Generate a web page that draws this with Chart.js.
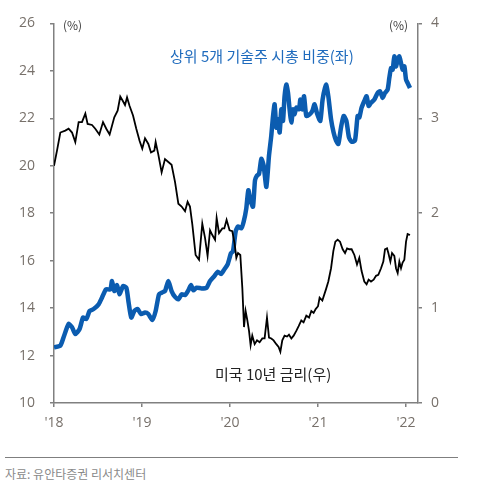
<!DOCTYPE html>
<html>
<head>
<meta charset="utf-8">
<script src="https://cdn.jsdelivr.net/npm/chart.js@4"></script>
<style>
  html, body { margin: 0; padding: 0; background: #fff; }
  #wrap { position: relative; width: 483px; height: 497px; overflow: hidden; }
  #chart { position: absolute; left: 0; top: 0; }
  .lbl { position: absolute; white-space: nowrap; font-family: "Noto Sans CJK KR", "Noto Sans", sans-serif; }
  .unit { font-size: 12px; color: #404040; top: 16px; }
  #blueLbl { left: 170px; top: 45px; font-size: 15px; color: #1f6bbd; }
  #blackLbl { left: 215px; top: 363px; font-size: 15px; color: #222; }
  #rule { position: absolute; left: 5px; top: 457px; width: 453px; height: 0; border-top: 1.5px solid #7f7f7f; }
  #src { left: 5px; top: 465px; font-size: 12px; color: #8a8a8a; }
</style>
</head>
<body>
<div id="wrap">
  <canvas id="chart"></canvas>
  <div class="lbl unit" style="left:63px;">(%)</div>
  <div class="lbl unit" style="left:389px;">(%)</div>
  <div class="lbl" id="blueLbl">상위 5개 기술주 시총 비중(좌)</div>
  <div class="lbl" id="blackLbl">미국 10년 금리(우)</div>
  <div id="rule"></div>
  <div class="lbl" id="src">자료: 유안타증권 리서치센터</div>
</div>
<script>
// 상위 5개 기술주 시총 비중 (좌축, %)
const techX = [2018.000, 2018.072, 2018.109, 2018.166, 2018.205, 2018.242, 2018.291, 2018.330, 2018.367, 2018.405,
  2018.450, 2018.507, 2018.545, 2018.591, 2018.640, 2018.659, 2018.685, 2018.716, 2018.745, 2018.784,
  2018.822, 2018.848, 2018.878, 2018.913, 2018.950, 2018.989, 2019.034, 2019.072, 2019.117, 2019.155,
  2019.193, 2019.223, 2019.261, 2019.299, 2019.336, 2019.375, 2019.413, 2019.450, 2019.489, 2019.526,
  2019.557, 2019.583, 2019.620, 2019.677, 2019.734, 2019.773, 2019.822, 2019.859, 2019.898, 2019.935,
  2019.973, 2020.011, 2020.034, 2020.064, 2020.091, 2020.128, 2020.155, 2020.185, 2020.208, 2020.231,
  2020.261, 2020.284, 2020.307, 2020.330, 2020.356, 2020.382, 2020.413, 2020.443, 2020.469, 2020.489,
  2020.507, 2020.526, 2020.545, 2020.564, 2020.583, 2020.602, 2020.620, 2020.640, 2020.659, 2020.677,
  2020.697, 2020.716, 2020.734, 2020.753, 2020.784, 2020.799, 2020.822, 2020.841, 2020.867, 2020.905,
  2020.935, 2020.961, 2020.989, 2021.026, 2021.052, 2021.091, 2021.117, 2021.148, 2021.177, 2021.205,
  2021.231, 2021.261, 2021.291, 2021.322, 2021.352, 2021.382, 2021.420, 2021.450, 2021.469, 2021.495,
  2021.526, 2021.552, 2021.575, 2021.602, 2021.640, 2021.677, 2021.705, 2021.734, 2021.761, 2021.791,
  2021.810, 2021.830, 2021.848, 2021.867, 2021.886, 2021.905, 2021.924, 2021.943, 2021.961, 2021.981,
  2022.000, 2022.018, 2022.045];
const techShare = [12.35, 12.42, 12.77, 13.33, 13.19, 12.91, 13.12, 13.60, 13.54, 13.88,
  13.96, 14.16, 14.44, 14.79, 14.79, 15.14, 14.72, 14.97, 14.58, 14.93,
  14.86, 14.23, 13.60, 13.88, 13.96, 13.75, 13.81, 13.75, 13.50, 13.88,
  14.58, 14.65, 14.72, 15.14, 14.72, 14.47, 14.37, 14.58, 14.55, 14.75,
  14.97, 14.75, 14.86, 14.83, 14.86, 15.14, 15.35, 15.53, 15.44, 15.63,
  15.84, 16.32, 16.39, 17.23, 17.44, 17.36, 17.64, 18.20, 18.97, 18.55,
  18.27, 19.39, 19.59, 19.66, 20.29, 20.01, 19.11, 20.43, 21.27, 22.10,
  22.59, 21.61, 21.96, 21.40, 22.38, 21.89, 22.93, 23.42, 23.07, 22.38,
  21.82, 22.38, 22.17, 22.45, 22.38, 22.79, 22.38, 22.93, 22.10, 22.17,
  22.31, 22.59, 22.20, 21.89, 22.79, 23.42, 22.93, 21.96, 21.40, 21.06,
  20.92, 21.61, 22.10, 21.89, 21.19, 21.01, 21.06, 22.10, 22.03, 22.45,
  22.73, 22.93, 22.52, 22.66, 22.79, 23.07, 23.14, 22.86, 23.07, 23.21,
  23.70, 24.12, 24.05, 24.61, 24.19, 24.46, 24.61, 24.33, 24.05, 24.19,
  23.63, 23.49, 23.28];

// 미국 10년 금리 (우축, %)
const rateX = [2018.000, 2018.034, 2018.072, 2018.128, 2018.166, 2018.205, 2018.242, 2018.280, 2018.318, 2018.356,
  2018.382, 2018.432, 2018.469, 2018.515, 2018.557, 2018.594, 2018.632, 2018.685, 2018.723, 2018.753,
  2018.784, 2018.807, 2018.830, 2018.859, 2018.898, 2018.935, 2018.973, 2019.003, 2019.034, 2019.072,
  2019.102, 2019.140, 2019.155, 2019.185, 2019.223, 2019.261, 2019.299, 2019.336, 2019.375, 2019.413,
  2019.450, 2019.489, 2019.518, 2019.545, 2019.572, 2019.609, 2019.648, 2019.685, 2019.716, 2019.745,
  2019.773, 2019.799, 2019.830, 2019.848, 2019.875, 2019.913, 2019.935, 2019.961, 2019.995, 2020.026,
  2020.052, 2020.072, 2020.091, 2020.117, 2020.140, 2020.159, 2020.177, 2020.197, 2020.216, 2020.234,
  2020.253, 2020.280, 2020.307, 2020.336, 2020.367, 2020.393, 2020.420, 2020.443, 2020.469, 2020.495,
  2020.526, 2020.552, 2020.572, 2020.594, 2020.620, 2020.648, 2020.670, 2020.697, 2020.723, 2020.753,
  2020.780, 2020.810, 2020.836, 2020.867, 2020.898, 2020.924, 2020.950, 2020.973, 2021.000, 2021.018,
  2021.049, 2021.091, 2021.117, 2021.148, 2021.174, 2021.197, 2021.223, 2021.250, 2021.280, 2021.307,
  2021.330, 2021.356, 2021.382, 2021.413, 2021.443, 2021.469, 2021.495, 2021.526, 2021.552, 2021.575,
  2021.602, 2021.632, 2021.659, 2021.685, 2021.716, 2021.742, 2021.761, 2021.784, 2021.799, 2021.822,
  2021.841, 2021.867, 2021.886, 2021.905, 2021.924, 2021.943, 2021.961, 2021.981, 2022.000, 2022.018,
  2022.045];
const rate10y = [2.50, 2.66, 2.85, 2.87, 2.89, 2.85, 2.75, 2.96, 2.96, 3.05,
  2.94, 2.93, 2.89, 2.83, 2.96, 2.89, 2.83, 3.01, 3.08, 3.23,
  3.18, 3.14, 3.22, 3.13, 3.03, 2.89, 2.76, 2.68, 2.79, 2.73,
  2.64, 2.66, 2.75, 2.62, 2.43, 2.57, 2.54, 2.51, 2.33, 2.10,
  2.07, 2.02, 2.12, 2.07, 1.88, 1.56, 1.51, 1.89, 1.74, 1.55,
  1.82, 1.77, 1.72, 1.95, 1.79, 1.84, 1.84, 1.93, 1.82, 1.81,
  1.68, 1.53, 1.58, 1.56, 1.21, 0.80, 0.97, 0.87, 0.76, 0.61,
  0.71, 0.62, 0.66, 0.64, 0.68, 0.68, 0.90, 0.69, 0.68, 0.66,
  0.62, 0.59, 0.54, 0.66, 0.71, 0.70, 0.72, 0.68, 0.71, 0.76,
  0.81, 0.87, 0.85, 0.92, 0.90, 0.97, 0.95, 0.99, 1.02, 1.11,
  1.08, 1.20, 1.28, 1.42, 1.60, 1.70, 1.72, 1.70, 1.62, 1.58,
  1.63, 1.62, 1.62, 1.56, 1.46, 1.53, 1.39, 1.28, 1.25, 1.30,
  1.28, 1.30, 1.34, 1.35, 1.42, 1.49, 1.62, 1.63, 1.58, 1.49,
  1.58, 1.55, 1.42, 1.37, 1.49, 1.42, 1.48, 1.51, 1.70, 1.78,
  1.77];

const yearTicks = [2018, 2019, 2020, 2021, 2022];
const leftTicks = [10, 12, 14, 16, 18, 20, 22, 24, 26];
const rightTicks = [0, 1, 2, 3, 4];

const axisGray = '#808080';
const tickFont = { family: '"Open Sans", "Noto Sans", sans-serif', size: 14 };
const tickColor = '#77706a';

const canvas = document.getElementById('chart');
canvas.width = 483;
canvas.height = 440;

new Chart(canvas.getContext('2d'), {
  type: 'line',
  data: {
    datasets: [
      {
        label: '미국 10년 금리(우)',
        data: rateX.map((x, i) => ({ x: x, y: rate10y[i] })),
        yAxisID: 'yR',
        borderColor: '#000000',
        borderWidth: 1.8,
        pointRadius: 0,
        tension: 0,
        order: 0,
      },
      {
        label: '상위 5개 기술주 시총 비중(좌)',
        data: techX.map((x, i) => ({ x: x, y: techShare[i] })),
        yAxisID: 'yL',
        borderColor: '#0b5cb0',
        borderWidth: 4.5,
        borderJoinStyle: 'round',
        pointRadius: 0,
        tension: 0.2,
        order: 1,
      },
    ],
  },
  options: {
    responsive: false,
    animation: false,
    devicePixelRatio: 1,
    layout: { padding: { top: 20, left: 0, right: 0, bottom: 0 } },
    plugins: { legend: { display: false }, tooltip: { enabled: false } },
    scales: {
      x: {
        type: 'linear',
        min: 2018,
        max: 2022.136,
        afterBuildTicks: (s) => { s.ticks = yearTicks.map(v => ({ value: v })); },
        afterFit: (s) => { s.height = 37; },
        grid: { drawOnChartArea: false, tickLength: 4, color: axisGray, lineWidth: 1.5 },
        border: { color: axisGray, width: 1.5 },
        ticks: {
          padding: 8,
          color: tickColor,
          font: tickFont,
          maxRotation: 0,
          callback: (v) => "'" + String(v).slice(2),
        },
      },
      yL: {
        position: 'left',
        min: 10,
        max: 26,
        afterBuildTicks: (s) => { s.ticks = leftTicks.map(v => ({ value: v })); },
        afterFit: (s) => { s.width = 54; },
        grid: { drawOnChartArea: false, tickLength: 4, color: axisGray, lineWidth: 1.5 },
        border: { color: axisGray, width: 1.5 },
        ticks: { padding: 15, color: tickColor, font: tickFont },
      },
      yR: {
        position: 'right',
        min: 0,
        max: 4,
        afterBuildTicks: (s) => { s.ticks = rightTicks.map(v => ({ value: v })); },
        afterFit: (s) => { s.width = 65; },
        grid: { drawOnChartArea: false, tickLength: 4, color: axisGray, lineWidth: 1.5 },
        border: { color: axisGray, width: 1.5 },
        ticks: { padding: 9, color: tickColor, font: tickFont },
      },
    },
  },
});
</script>
</body>
</html>
